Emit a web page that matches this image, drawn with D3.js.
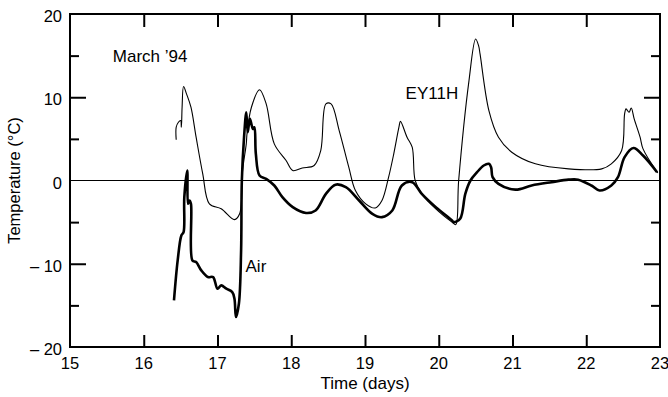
<!DOCTYPE html>
<html>
<head>
<meta charset="utf-8">
<script src="https://cdn.jsdelivr.net/npm/d3@7"></script>
<style>
  body { margin: 0; background: #fff; }
  svg { display: block; }
</style>
</head>
<body>
<div id="chart"></div>
<script>
// values: [day, temperature]
const ey11h = [
  [16.44, 4.9], [16.44, 6.4], [16.47, 7.0], [16.50, 7.2], [16.51, 6.4], [16.52, 8.8],
  [16.54, 11.3], [16.58, 10.4], [16.64, 8.8], [16.71, 5.2], [16.80, 0.8], [16.89, -2.8],
  [17.05, -3.4], [17.23, -4.7], [17.30, -4.0], [17.34, 1.2], [17.39, 4.4], [17.40, 5.6],
  [17.46, 8.8], [17.57, 10.9], [17.66, 9.2], [17.77, 4.4], [17.93, 2.4], [18.02, 1.2],
  [18.15, 1.5], [18.31, 1.8], [18.40, 3.6], [18.47, 9.2], [18.54, 9.2], [18.65, 6.0],
  [18.78, 1.6], [18.87, -1.2], [19.01, -2.8], [19.14, -3.3], [19.23, -2.4], [19.32, 0.4],
  [19.39, 3.2], [19.46, 6.4], [19.48, 7.1], [19.57, 5.2], [19.64, 4.0], [19.68, 0.0],
  [19.77, -1.6], [19.96, -3.4], [20.18, -5.0], [20.23, -5.3], [20.27, 0.0], [20.41, 12.0],
  [20.50, 17.0], [20.54, 16.2], [20.56, 15.2], [20.68, 8.4], [20.81, 5.2], [20.99, 3.4],
  [21.31, 2.0], [21.76, 1.4], [22.21, 1.4], [22.34, 2.0], [22.48, 3.6], [22.52, 8.0],
  [22.54, 8.6], [22.58, 8.2], [22.61, 8.7], [22.65, 7.4], [22.73, 5.2], [22.77, 3.8],
  [22.97, 0.9]
];

const air = [
  [16.41, -14.4], [16.46, -9.6], [16.51, -6.6], [16.54, -6.2], [16.55, -2.0], [16.59, 1.2],
  [16.60, -2.8], [16.62, -2.4], [16.64, -2.8], [16.66, -9.6], [16.71, -9.8], [16.78, -10.8],
  [16.87, -11.6], [16.94, -11.6], [17.00, -13.0], [17.05, -12.6], [17.12, -13.0], [17.20, -13.4],
  [17.23, -14.2], [17.25, -16.4], [17.29, -14.8], [17.32, -8.4], [17.33, 0.0], [17.36, 5.2],
  [17.39, 8.2], [17.41, 5.8], [17.44, 7.4], [17.48, 6.2], [17.50, 6.4], [17.52, 3.2],
  [17.57, 0.6], [17.66, 0.2], [17.77, -0.6], [17.88, -2.0], [18.02, -3.2], [18.20, -3.9],
  [18.33, -3.6], [18.47, -1.6], [18.60, -0.5], [18.74, -0.8], [18.92, -2.4], [19.10, -4.0],
  [19.23, -4.4], [19.37, -3.6], [19.50, -0.6], [19.64, -0.2], [19.77, -1.6], [19.96, -3.2],
  [20.18, -4.8], [20.20, -5.0], [20.29, -4.6], [20.36, -1.6], [20.43, 0.0], [20.52, 1.0],
  [20.61, 1.8], [20.68, 2.0], [20.71, 1.6], [20.73, 0.4], [20.81, -0.4], [21.04, -1.1],
  [21.26, -0.6], [21.53, -0.2], [21.76, 0.1], [21.89, 0.1], [22.07, -0.6], [22.18, -1.2],
  [22.34, -0.6], [22.43, 0.4], [22.52, 2.8], [22.64, 3.9], [22.77, 3.0], [22.96, 1.0]
];

const xTicks = [15, 16, 17, 18, 19, 20, 21, 22, 23];
const yMajor = [20, 10, 0, -10, -20];
const yMinor = [15, 5, -5, -15];
const yLabels = ["20", "10", "0", "\u2013 10", "\u2013 20"];

const width = 668, height = 397;
const margin = {top: 14, right: 8, bottom: 50, left: 70};
const font = "'Liberation Sans', Arial, Helvetica, sans-serif";

const svg = d3.select('#chart').append('svg')
    .attr('width', width)
    .attr('height', height);

const x = d3.scaleLinear()
    .domain([15, 23])
    .range([margin.left, width - margin.right]);

const y = d3.scaleLinear()
    .domain([-20, 20])
    .range([height - margin.bottom, margin.top]);

// zero line
svg.append('line')
    .attr('x1', x(15)).attr('x2', x(23))
    .attr('y1', y(0)).attr('y2', y(0))
    .attr('stroke', '#000')
    .attr('stroke-width', 1.2);

// inward ticks on all four sides
const inner = xTicks.slice(1, -1);
svg.append('g')
    .attr('transform', `translate(0,${y(-20)})`)
    .call(d3.axisBottom(x).tickValues(inner).tickSize(-12).tickFormat(''))
    .call(g => g.select('.domain').remove())
    .selectAll('line').attr('stroke-width', 2);

svg.append('g')
    .attr('transform', `translate(0,${y(20)})`)
    .call(d3.axisTop(x).tickValues(inner).tickSize(-13).tickFormat(''))
    .call(g => g.select('.domain').remove())
    .selectAll('line').attr('stroke-width', 2);

[[x(15), -1], [x(23), 1]].forEach(([px, dir]) => {
  svg.append('g')
      .attr('transform', `translate(${px},0)`)
      .call((dir < 0 ? d3.axisLeft(y) : d3.axisRight(y)).tickValues([10, -10]).tickSize(-16).tickFormat(''))
      .call(g => g.select('.domain').remove())
      .selectAll('line').attr('stroke-width', 2);
  svg.append('g')
      .attr('transform', `translate(${px},0)`)
      .call((dir < 0 ? d3.axisLeft(y) : d3.axisRight(y)).tickValues(yMinor).tickSize(-9).tickFormat(''))
      .call(g => g.select('.domain').remove())
      .selectAll('line').attr('stroke-width', 2);
});

// frame
svg.append('rect')
    .attr('x', x(15)).attr('y', y(20))
    .attr('width', x(23) - x(15))
    .attr('height', y(-20) - y(20))
    .attr('fill', 'none')
    .attr('stroke', '#000')
    .attr('stroke-width', 2);

// tick labels
svg.append('g').selectAll('text')
    .data(xTicks)
    .join('text')
      .attr('x', d => x(d))
      .attr('y', y(-20) + 22)
      .attr('text-anchor', 'middle')
      .attr('font-family', font)
      .attr('font-size', '16.5px')
      .text(d => d);

svg.append('g').selectAll('text')
    .data(yMajor)
    .join('text')
      .attr('x', x(15) - 8)
      .attr('y', d => y(d) + 8)
      .attr('text-anchor', 'end')
      .attr('font-family', font)
      .attr('font-size', '16.5px')
      .text((d, i) => yLabels[i]);

// axis titles
svg.append('text')
    .attr('x', (x(15) + x(23)) / 2)
    .attr('y', 389)
    .attr('text-anchor', 'middle')
    .attr('font-family', font)
    .attr('font-size', '17px')
    .text('Time (days)');

svg.append('text')
    .attr('transform', `translate(20,${y(0)}) rotate(-90)`)
    .attr('text-anchor', 'middle')
    .attr('font-family', font)
    .attr('font-size', '16.5px')
    .text('Temperature (°C)');

// series
const line = d3.line()
    .curve(d3.curveCatmullRom.alpha(0.5))
    .x(d => x(d[0]))
    .y(d => y(d[1]));

svg.append('path')
    .datum(ey11h)
    .attr('d', line)
    .attr('fill', 'none')
    .attr('stroke', '#000')
    .attr('stroke-width', 1.1)
    .attr('stroke-linejoin', 'round');

svg.append('path')
    .datum(air)
    .attr('d', line)
    .attr('fill', 'none')
    .attr('stroke', '#000')
    .attr('stroke-width', 2.6)
    .attr('stroke-linejoin', 'round');

// annotations
const notes = [
  {text: "March \u201994", d: 15.58, t: 14.2},
  {text: "EY11H", d: 19.55, t: 9.8},
  {text: "Air", d: 17.38, t: -11.0}
];
svg.append('g').selectAll('text')
    .data(notes)
    .join('text')
      .attr('x', n => x(n.d))
      .attr('y', n => y(n.t))
      .attr('font-family', font)
      .attr('font-size', '17px')
      .text(n => n.text);
</script>
</body>
</html>
